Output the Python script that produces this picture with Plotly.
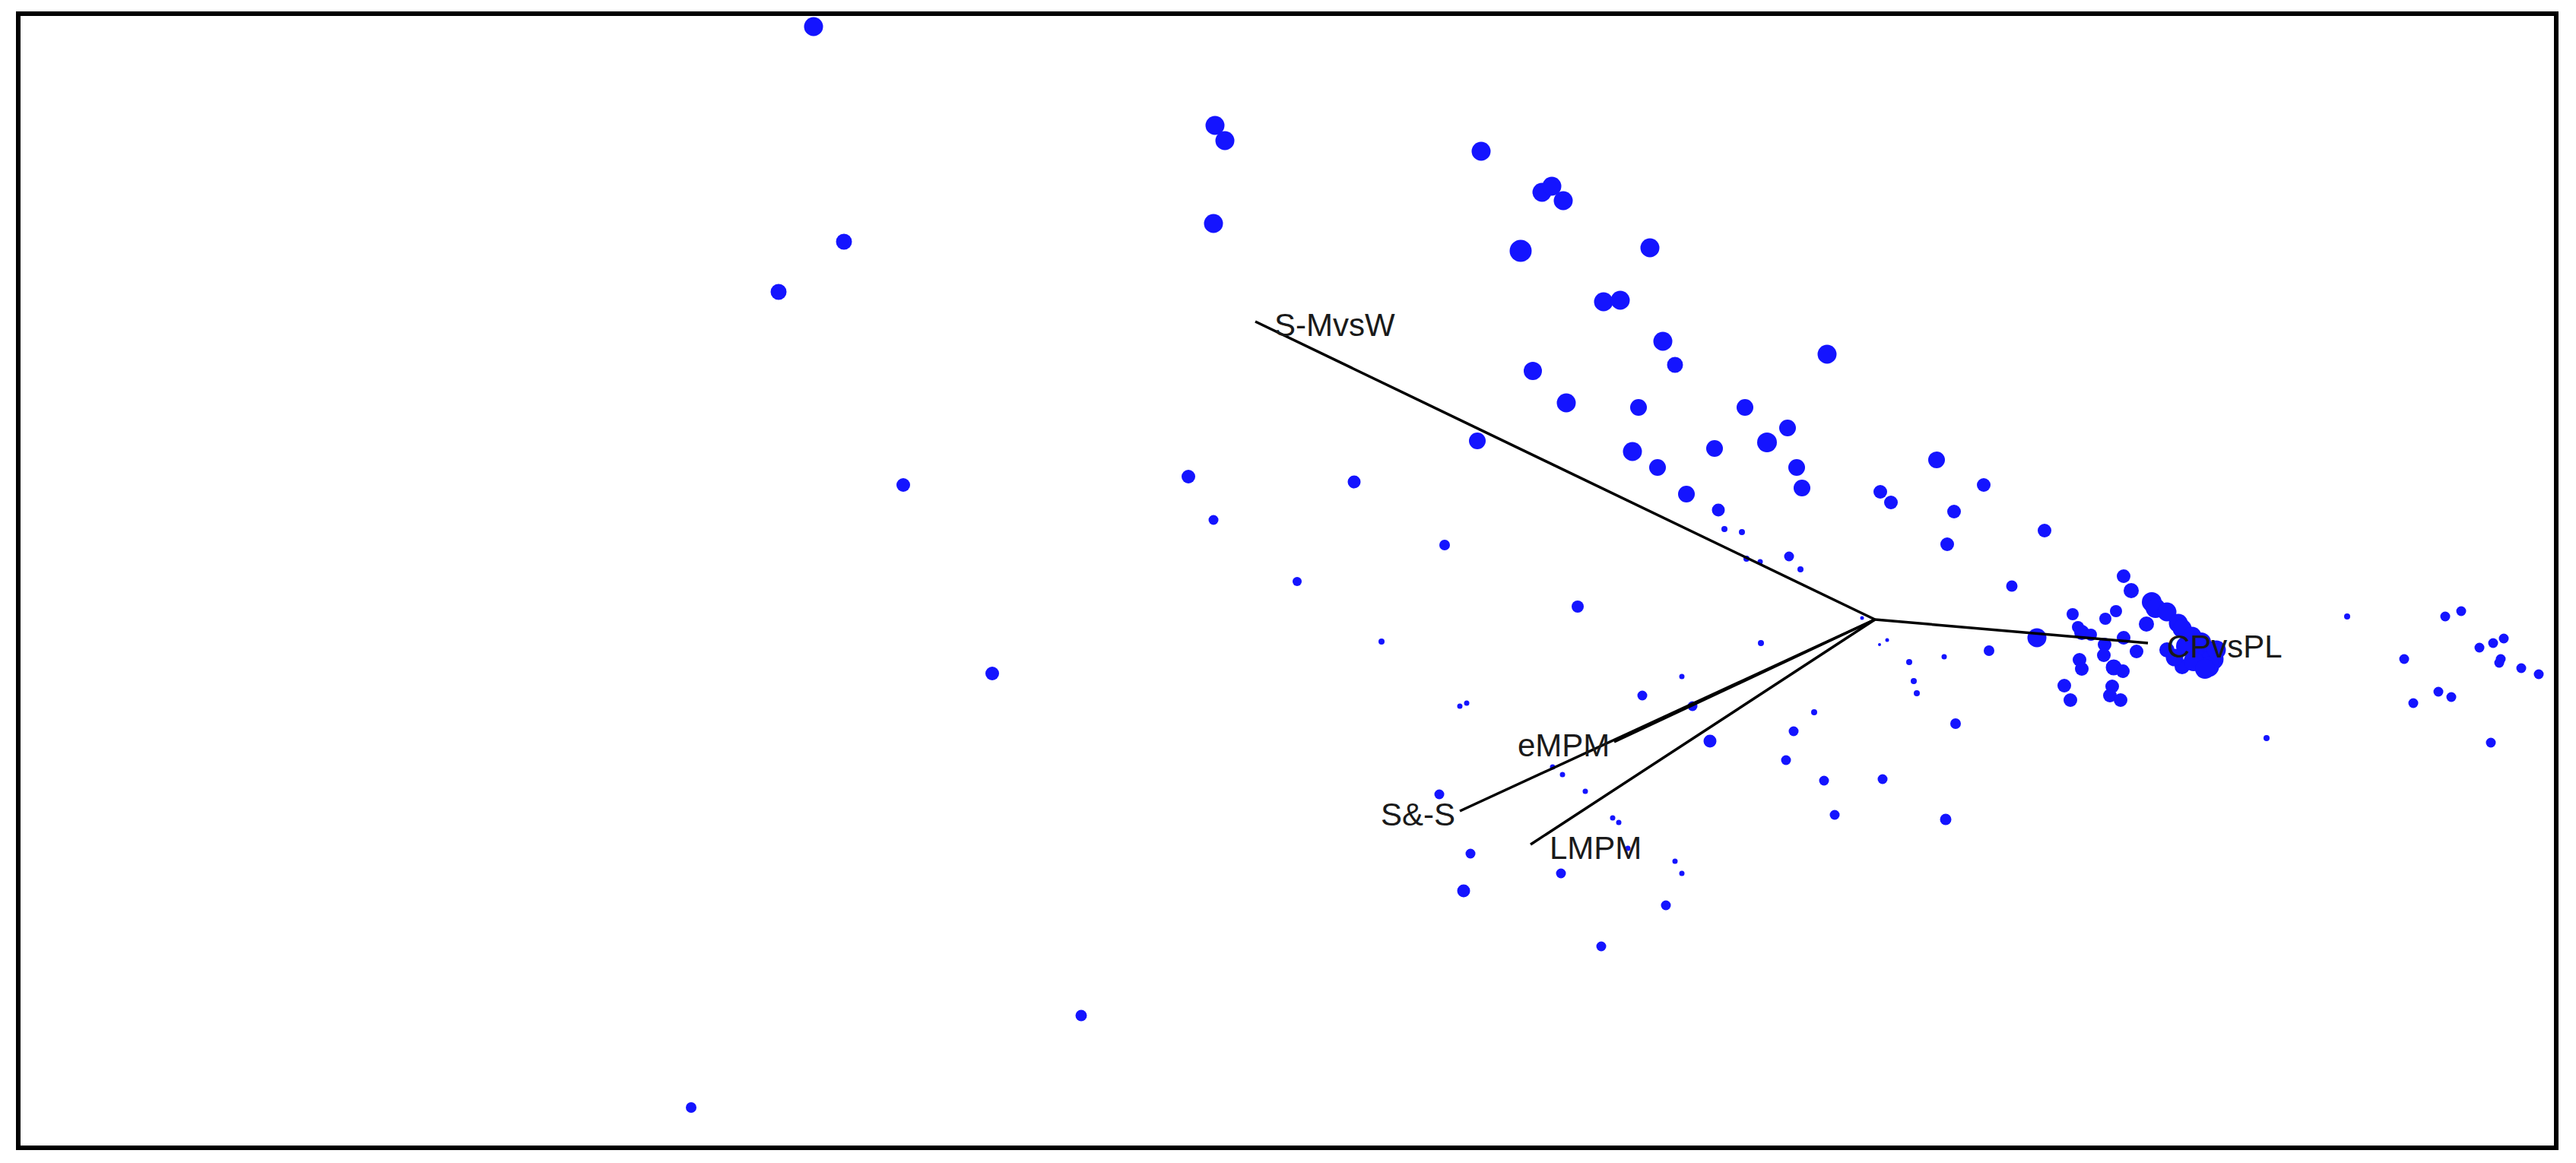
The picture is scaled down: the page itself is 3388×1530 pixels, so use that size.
import plotly.graph_objects as go

# sample scores on the first two axes
pc1 = [-13.96, -13.56, -14.42, -12.78, -11.61, -10.44, -15.57,
       -8.68, -8.55, -8.70, -5.18, -4.38, -4.25, -4.10, -4.66, -3.57, -3.35,
       -4.50, -4.06, -5.23, -9.03, -6.85, -8.70, -2.96, -2.79, -2.63, -0.63,
       -3.11, -1.71, -1.15, -1.42, -3.19, -2.11, -2.86, -1.03, -0.96, -2.48,
       -2.06, -1.98, -1.75, -1.69, -1.51, -1.13, -0.98, 0.81, 1.43, 0.07,
       0.21, 1.04, 2.23, 0.95,
       1.80, 3.27, 3.37, 3.64, 3.69, 3.84, 3.99, 4.04, 4.17, 4.24, 4.37,
       4.44, 4.39, 4.04, 3.84, 3.57, 2.60, 3.17, 3.03, 2.13, 2.67, 2.72,
       2.84, 3.27, 3.02, 3.01, 3.44, 1.50, 0.91, 2.69, 2.72, 3.14, 3.26,
       2.49, 2.57, 3.12, 3.09, 3.23, 1.06, 0.93, 5.15,
       4.09, 4.29, 4.49, 4.19, 4.34, 3.94,
       -0.17, -1.50, 0.16, 0.06, 0.45, 0.51, 0.55, -0.80, -1.07, -1.17,
       -0.67, 0.10, -0.53, -5.66, -3.91, -6.49, -2.54, -3.06, -2.40, -5.46,
       -5.37, -2.17, -4.24, -4.11, -3.81, -5.73, -3.45, -3.37, -3.25, -5.32,
       -2.63, -2.54, -4.13, -5.41, -2.75, -3.60, -7.60,
       6.21, 7.50, 7.71, 8.27, 8.13, 7.95, 8.23, 8.21, 8.50, 8.73, 6.96,
       7.41, 7.58, 7.08, 8.10]

pc2 = [7.80, 4.97, 4.31, 1.77, -0.71, -5.21, -6.42,
       6.50, 6.30, 5.21, 6.16, 5.62, 5.70, 5.51, 4.85, 4.18, 4.20,
       3.27, 2.85, 2.35, 1.88, 1.81, 1.31, 4.89, 3.66, 3.35, 3.49,
       2.79, 2.79, 2.52, 2.33, 2.21, 2.25, 2.00, 2.00, 1.73, 1.65,
       1.44, 1.19, 1.15, 0.80, 0.76, 0.83, 0.66, 2.10, 1.77, 1.68,
       1.54, 1.42, 1.17, 0.99,
       0.44, 0.57, 0.38, 0.23, 0.15, 0.10, -0.05, -0.12, -0.22, -0.32, -0.42,
       -0.52, -0.62, -0.62, -0.40, -0.06, 0.07, 0.11, 0.01, -0.24, -0.10, -0.17,
       -0.20, -0.24, -0.33, -0.47, -0.42, -0.41, -0.49, -0.53, -0.65, -0.63, -0.68,
       -0.87, -1.06, -0.88, -1.00, -1.06, -1.37, -2.63, -1.56,
       -0.35, -0.30, -0.40, -0.55, -0.65, -0.50,
       0.02, -0.31, -0.27, -0.33, -0.56, -0.81, -0.97, -1.22, -1.47, -1.85,
       -2.12, -2.10, -2.57, 0.98, 0.17, -0.29, -0.75, -1.00, -1.14, -1.14,
       -1.10, -1.60, -1.94, -2.04, -2.26, -2.30, -2.61, -2.67, -3.01, -3.08,
       -3.18, -3.34, -3.34, -3.57, -3.76, -4.30, 0.50,
       0.04, 0.04, 0.11, -0.25, -0.31, -0.37, -0.52, -0.57, -0.64, -0.72, -0.52,
       -0.95, -1.02, -1.10, -1.62]

# sample weights (drive the point size)
weight = [2.5, 2.1, 2.1, 1.8, 1.8, 1.5, 1.4,
          2.5, 2.5, 2.5, 2.5, 2.5, 2.5, 2.5, 2.9, 2.5, 2.5,
          2.4, 2.5, 2.2, 1.8, 1.7, 1.3, 2.5, 2.5, 2.1, 2.5,
          2.2, 2.2, 2.2, 2.6, 2.5, 2.2, 2.2, 2.2, 2.2, 2.2,
          1.7, 0.8, 0.8, 0.8, 0.7, 1.3, 0.8, 2.2, 1.8, 1.8,
          1.8, 1.8, 1.8, 1.8,
          1.5, 1.8, 2.0, 2.6, 2.6, 2.5, 2.5, 2.5, 2.5, 2.7, 2.9,
          2.9, 2.7, 2.0, 2.0, 2.0, 1.6, 1.6, 1.6, 2.5, 1.6, 2.0,
          1.6, 1.8, 1.8, 1.8, 1.8, 1.4, 0.7, 1.8, 1.8, 2.1, 1.8,
          1.8, 1.8, 1.8, 1.8, 1.8, 1.4, 1.5, 0.8,
          2.6, 2.6, 2.5, 2.6, 2.6, 2.3,
          0.5, 0.8, 0.5, 0.4, 0.8, 0.8, 0.8, 0.8, 1.3, 1.3,
          1.3, 1.3, 1.3, 1.4, 1.6, 0.8, 0.7, 1.3, 1.3, 0.7,
          0.7, 1.7, 0.7, 0.7, 0.7, 1.3, 0.7, 0.7, 0.7, 1.3,
          0.7, 0.7, 1.3, 1.7, 1.3, 1.3, 1.2,
          0.8, 1.3, 1.3, 1.3, 1.3, 1.3, 1.3, 1.3, 1.3, 1.3, 1.3,
          1.3, 1.3, 1.3, 1.3]

# variable loadings
var_names = ["S-MvsW", "CPvsPL", "eMPM", "S&-S", "LMPM"]
load1 = [-8.15, 3.59, -3.43, -5.46, -4.53]
load2 = [3.92, -0.31, -1.61, -2.52, -2.96]

label_side = {"S-MvsW": "left", "CPvsPL": "left", "LMPM": "left",
              "eMPM": "right", "S&-S": "right"}

fig = go.Figure()

fig.add_trace(go.Scatter(
    x=pc1, y=pc2, mode="markers",
    marker=dict(size=[w * 10 for w in weight], color="rgb(20,20,255)",
                line=dict(width=0), opacity=1),
    hoverinfo="skip", showlegend=False
))

for name, a, b in zip(var_names, load1, load2):
    fig.add_trace(go.Scatter(
        x=[0, a], y=[0, b], mode="lines",
        line=dict(color="black", width=3.5),
        hoverinfo="skip", showlegend=False
    ))
    side = label_side[name]
    fig.add_annotation(
        x=a, y=b, text=name, showarrow=False,
        xanchor=side, yanchor="middle",
        xshift=23 if side == "left" else -4, yshift=-4,
        font=dict(family="Liberation Sans, Arial, sans-serif", size=42, color="#1a1a1a")
    )

fig.add_shape(type="rect", xref="paper", yref="paper", x0=0, x1=1, y0=0, y1=1,
              line=dict(color="black", width=6), layer="above")

fig.update_xaxes(range=[-24.42, 8.96], visible=False, showgrid=False, zeroline=False)
fig.update_yaxes(range=[-6.95, 7.97], visible=False, showgrid=False, zeroline=False)

# page body adds an 8px margin, so the figure is offset accordingly
fig.update_layout(
    width=3372, height=1514,
    margin=dict(l=16, r=18, t=10, b=12),
    plot_bgcolor="white", paper_bgcolor="white",
    showlegend=False
)

fig.write_html("out.html")
